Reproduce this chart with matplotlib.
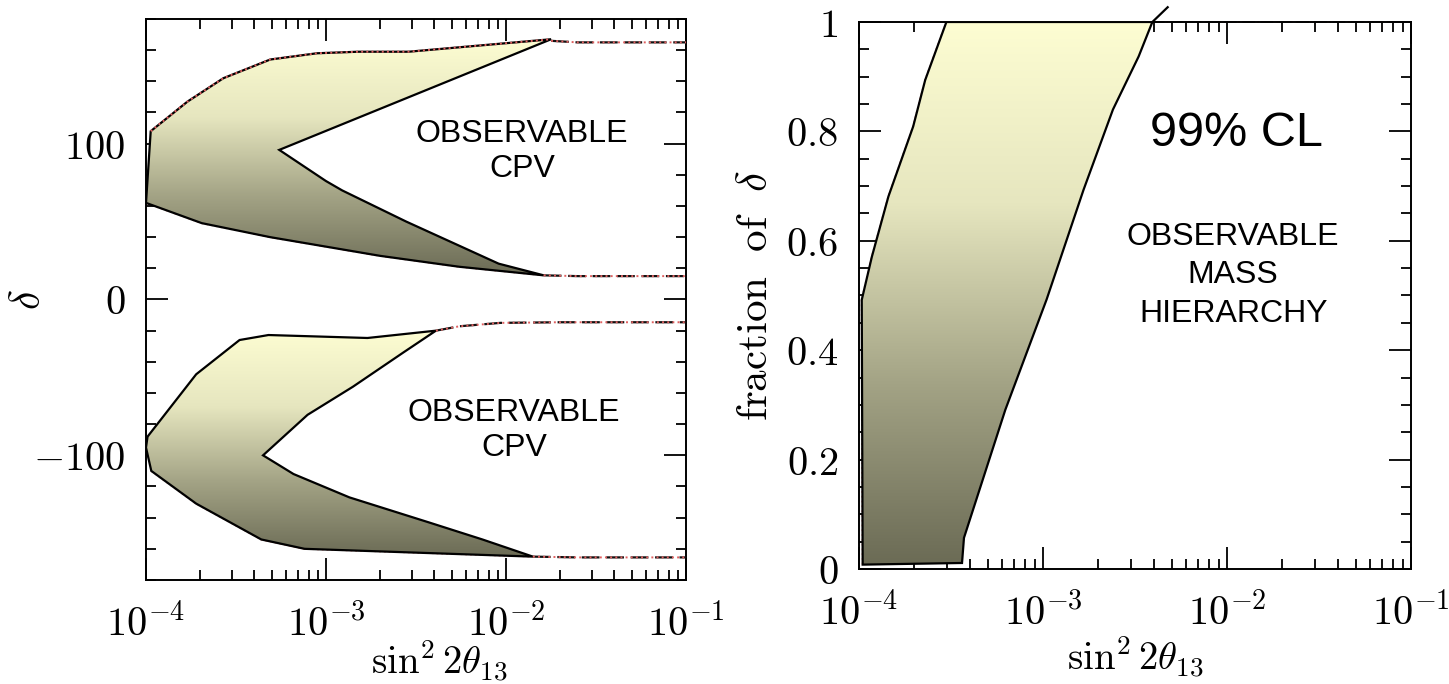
import numpy as np
import matplotlib
matplotlib.use("Agg")
import matplotlib.pyplot as plt
from matplotlib.patches import Polygon
from matplotlib.colors import LinearSegmentedColormap
from matplotlib.ticker import FixedLocator, FixedFormatter, LogLocator, MultipleLocator

plt.rcParams['mathtext.fontset'] = 'cm'
plt.rcParams['font.family'] = ['Liberation Sans', 'DejaVu Sans']

# ---- left panel: CPV regions (sin^2 2theta13, delta in degrees) ----
# upper region, boundary traced clockwise starting at the left edge
cpv_up_x = [1.0e-4, 1.062e-4, 1.70e-4, 2.69e-4, 4.9e-4, 8.9e-4, 1.51e-3, 2.88e-3, 1.78e-2,
            5.5e-4, 1.0e-3, 1.23e-3, 2.79e-3, 9.1e-3, 1.62e-2,
            5.5e-3, 2.0e-3, 4.9e-4, 2.04e-4]
cpv_up_d = [62, 108, 127, 142, 154, 158, 159, 159, 167,
            96, 76, 70, 50, 23, 15.5,
            21, 28, 40, 49]

# lower region
cpv_lo_x = [4.08e-3, 1.70e-3, 4.79e-4, 3.31e-4, 1.9e-4, 1.02e-4, 1.0e-4, 1.07e-4,
            1.9e-4, 4.37e-4, 7.6e-4, 1.41e-2,
            7.4e-3, 3.72e-3, 1.35e-3, 6.6e-4, 4.47e-4,
            7.9e-4, 1.41e-3, 2.69e-3]
cpv_lo_d = [-20, -24.7, -22.8, -26, -48, -88, -95, -110,
            -131, -154, -160, -165,
            -154, -143, -127, -112, -100,
            -74, -56, -34]

# outer curves continuing past the shaded regions
ext_up_top_x = [1.78e-2, 2.5e-2, 0.1]
ext_up_top_d = [166, 165, 165]
ext_up_bot_x = [1.62e-2, 2.5e-2, 0.1]
ext_up_bot_d = [15.5, 15, 15]
ext_lo_top_x = [4.08e-3, 5.5e-3, 9.3e-3, 2.0e-2, 0.1]
ext_lo_top_d = [-20, -17.2, -15, -14.6, -14.6]
ext_lo_bot_x = [1.41e-2, 2.5e-2, 0.1]
ext_lo_bot_d = [-165, -165.5, -165.5]

# ---- right panel: mass hierarchy region (fraction of delta) ----
mh_left_x = [1.047e-4, 1.035e-4, 1.175e-4, 1.445e-4, 1.97e-4, 2.29e-4, 2.985e-4]
mh_left_f = [0.008, 0.492, 0.571, 0.681, 0.809, 0.894, 1.0]
mh_right_x = [3.93e-3, 3.31e-3, 2.40e-3, 1.66e-3, 1.047e-3, 6.24e-4, 3.72e-4, 3.63e-4]
mh_right_f = [1.0, 0.937, 0.84, 0.693, 0.493, 0.291, 0.057, 0.011]
mh_tail_x = [3.93e-3, 4.76e-3]
mh_tail_f = [1.0, 1.027]
mh_top_x = [3.93e-3, 0.1]
mh_top_f = [1.0, 1.0]

# ticks
x_ticks = [1e-4, 1e-3, 1e-2, 1e-1]
x_labels = [r'$10^{-4}$', r'$10^{-3}$', r'$10^{-2}$', r'$10^{-1}$']
d_ticks = [-100, 0, 100]
d_labels = [r'$-100$', r'$0$', r'$100$']
f_ticks = [0, 0.2, 0.4, 0.6, 0.8, 1.0]
f_labels = [r'$0$', r'$0.2$', r'$0.4$', r'$0.6$', r'$0.8$', r'$1$']

grad = LinearSegmentedColormap.from_list('band', ['#6b6b55', '#a3a385', '#e6e6bf', '#fdfdd2'])
TICK_FS = 29


def gradient_fill(ax, xs, ys):
    """Polygon with a vertical gradient, clipped image in axes coords."""
    poly = Polygon(np.column_stack([xs, ys]), closed=True, facecolor='none',
                   edgecolor='black', lw=1.6, zorder=3, transform=ax.transData)
    ax.add_patch(poly)
    y0, y1 = ax.get_ylim()
    b = (min(ys) - y0) / (y1 - y0)
    t = (max(ys) - y0) / (y1 - y0)
    g = np.linspace(0, 1, 256).reshape(-1, 1)
    im = ax.imshow(g, cmap=grad, origin='lower', aspect='auto', extent=[0, 1, b, t],
                   transform=ax.transAxes, zorder=2, interpolation='bilinear')
    im.set_clip_path(poly)
    return poly


def style_axes(ax):
    ax.set_xscale('log')
    ax.set_xlim(1e-4, 1e-1)
    ax.xaxis.set_major_locator(FixedLocator(x_ticks))
    ax.xaxis.set_major_formatter(FixedFormatter(x_labels))
    ax.xaxis.set_minor_locator(LogLocator(base=10, subs=np.arange(2, 10)))
    ax.xaxis.set_minor_formatter(FixedFormatter([]))
    ax.tick_params(which='both', direction='in', top=True, right=True,
                   labelsize=TICK_FS, pad=15, width=1.3)
    ax.tick_params(axis='x', which='both', pad=17)
    ax.tick_params(which='major', length=16)
    ax.tick_params(which='minor', length=7.5)
    for s in ax.spines.values():
        s.set_linewidth(1.4)


fig = plt.figure(figsize=(14.49, 6.84), dpi=100)

# left panel
ax1 = fig.add_axes([0.10076, 0.15205, 0.37267, 0.82018])
style_axes(ax1)
ax1.set_ylim(-180, 180)
ax1.yaxis.set_major_locator(FixedLocator(d_ticks))
ax1.yaxis.set_major_formatter(FixedFormatter(d_labels))
ax1.yaxis.set_minor_locator(MultipleLocator(20))

red = '#e06060'
for ex, ed in [(cpv_up_x[1:9], cpv_up_d[1:9]), (ext_up_top_x, ext_up_top_d),
               (ext_up_bot_x, ext_up_bot_d), (ext_lo_top_x, ext_lo_top_d),
               (ext_lo_bot_x, ext_lo_bot_d)]:
    ax1.plot(ex, ed, color=red, ls=':', lw=1.4, zorder=5)
for ex, ed in [(ext_up_top_x, ext_up_top_d), (ext_up_bot_x, ext_up_bot_d),
               (ext_lo_top_x, ext_lo_top_d), (ext_lo_bot_x, ext_lo_bot_d)]:
    ax1.plot(ex, ed, color='#111111', ls=(0, (8, 3)), lw=1.6, zorder=4)
ax1.plot(cpv_up_x[14:] + [cpv_up_x[0]], cpv_up_d[14:] + [cpv_up_d[0]],
         color=red, ls=':', lw=1.3, zorder=1)
ax1.plot(cpv_lo_x[7:12], cpv_lo_d[7:12], color=red, ls=':', lw=1.3, zorder=1)

gradient_fill(ax1, cpv_up_x, cpv_up_d)
gradient_fill(ax1, cpv_lo_x, cpv_lo_d)

ax1.text(0.0123, 95, 'OBSERVABLE\nCPV', ha='center', va='center', fontsize=23,
         linespacing=1.25)
ax1.text(0.0111, -84, 'OBSERVABLE\nCPV', ha='center', va='center', fontsize=23,
         linespacing=1.25)
ax1.set_ylabel(r'$\delta$', fontsize=30, rotation=90)
ax1.yaxis.set_label_coords(-0.18, 0.5)
ax1.set_xlabel(r'$\sin^2 2\theta_{13}$', fontsize=28)
ax1.xaxis.set_label_coords(0.544, -0.105)

# right panel
ax2 = fig.add_axes([0.59282, 0.16813, 0.38095, 0.79971])
style_axes(ax2)
ax2.set_ylim(0, 1)
ax2.yaxis.set_major_locator(FixedLocator(f_ticks))
ax2.yaxis.set_major_formatter(FixedFormatter(f_labels))
ax2.yaxis.set_minor_locator(MultipleLocator(0.05))

ax2.plot(mh_left_x, mh_left_f, color=red, ls=':', lw=1.3, zorder=1)
ax2.plot(mh_top_x, mh_top_f, color=red, ls=':', lw=1.3, zorder=1, clip_on=False)
ax2.plot(mh_top_x, mh_top_f, color='#555555', ls=(0, (7, 3)), lw=1.3, zorder=1, clip_on=False)
mh_x = mh_left_x + mh_right_x
mh_f = mh_left_f + mh_right_f
gradient_fill(ax2, mh_x, mh_f)
ax2.plot(mh_tail_x, mh_tail_f, color='black', lw=1.6, zorder=4, clip_on=False)

ax2.text(0.0112, 0.797, '99% CL', ha='center', va='center', fontsize=35)
ax2.text(0.0108, 0.537, 'OBSERVABLE\nMASS\nHIERARCHY', ha='center', va='center',
         fontsize=23, linespacing=1.36)
ax2.set_ylabel(r'$\mathrm{fraction\ \ of\ \ }\delta$', fontsize=31)
ax2.yaxis.set_label_coords(-0.15, 0.5)
ax2.set_xlabel(r'$\sin^2 2\theta_{13}$', fontsize=28)
ax2.xaxis.set_label_coords(0.5, -0.12)

fig.savefig('out.png', dpi=100)
